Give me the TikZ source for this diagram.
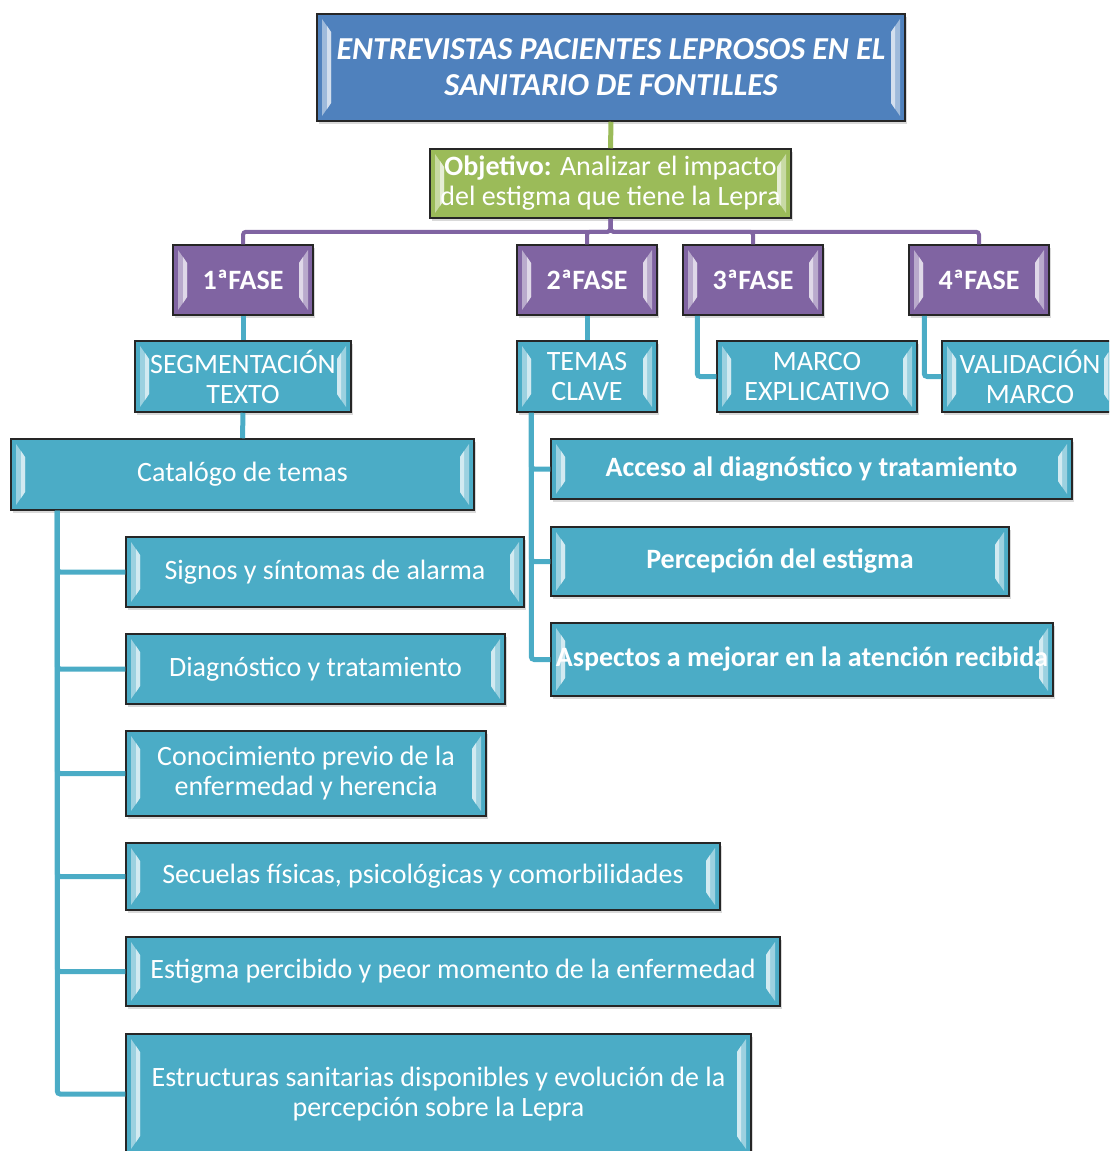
\documentclass[tikz,border=0pt]{standalone}
\usepackage{fontspec}
\setmainfont{Carlito}
\usepackage{tikz}
\usetikzlibrary{positioning, calc, shadows}
\definecolor{titlecolor}{RGB}{79,129,189}
\definecolor{goalcolor}{RGB}{155,187,89}
\definecolor{phasecolor}{RGB}{128,100,162}
\definecolor{topiccolor}{RGB}{75,172,198}

\begin{document}
\begin{tikzpicture}[
    x=1pt, y=-1pt,
    box/.style={draw=black!85, line width=1.5pt, fill=#1, text=white, inner sep=0pt, align=center,
      font=\fontsize{28}{30}\selectfont,
      drop shadow={shadow xshift=1.5pt, shadow yshift=-2.5pt, opacity=0.3},
      path picture={
        \fill[white!45!#1]
          ($(path picture bounding box.north west)+(5,5)$) -- ($(path picture bounding box.north west)+(14,18)$)
          -- ($(path picture bounding box.south west)+(14,-18)$) -- ($(path picture bounding box.south west)+(5,-5)$) -- cycle;
        \fill[white!75!#1]
          ($(path picture bounding box.north west)+(10,12)$) -- ($(path picture bounding box.north west)+(14,18)$)
          -- ($(path picture bounding box.south west)+(14,-18)$) -- ($(path picture bounding box.south west)+(10,-12)$) -- cycle;
        \fill[white!45!#1]
          ($(path picture bounding box.north east)+(-5,5)$) -- ($(path picture bounding box.north east)+(-14,18)$)
          -- ($(path picture bounding box.south east)+(-14,-18)$) -- ($(path picture bounding box.south east)+(-5,-5)$) -- cycle;
        \fill[white!75!#1]
          ($(path picture bounding box.north east)+(-10,12)$) -- ($(path picture bounding box.north east)+(-14,18)$)
          -- ($(path picture bounding box.south east)+(-14,-18)$) -- ($(path picture bounding box.south east)+(-10,-12)$) -- cycle;
      }},
    titlebox/.style={box=titlecolor, font=\fontsize{32}{36}\selectfont\bfseries\itshape},
    goalbox/.style={box=goalcolor},
    phasebox/.style={box=phasecolor, font=\fontsize{28}{30}\selectfont\bfseries},
    topic/.style={box=topiccolor},
    keytopic/.style={box=topiccolor, font=\fontsize{28}{30}\selectfont\bfseries},
    glink/.style={draw=goalcolor, line width=5pt},
    plink/.style={draw=phasecolor, line width=4pt, rounded corners=3pt},
    tlink/.style={draw=topiccolor, line width=5pt, rounded corners=3pt}
]
    \useasboundingbox (0,0) rectangle (1109,1151);
    \clip (0,0) rectangle (1109,1151);

    % Title and objective
    \node[titlebox, minimum width=588pt, minimum height=107pt] (title) at (611,67.5) {ENTREVISTAS PACIENTES LEPROSOS EN EL\\SANITARIO DE FONTILLES};
    \node[goalbox, minimum width=361pt, minimum height=69pt] (obj) at (610.5,183.5) {\textbf{Objetivo:} Analizar el impacto\\del estigma que tiene la Lepra};

    % Phases
    \node[phasebox, minimum width=140pt, minimum height=70pt] (f1) at (243,280) {1ªFASE};
    \node[phasebox, minimum width=140pt, minimum height=70pt] (f2) at (587,280) {2ªFASE};
    \node[phasebox, minimum width=140pt, minimum height=70pt] (f3) at (753,280) {3ªFASE};
    \node[phasebox, minimum width=140pt, minimum height=70pt] (f4) at (979,280) {4ªFASE};

    % Phase results
    \node[topic, minimum width=216pt, minimum height=71pt] (seg) at (243,376.5) {SEGMENTACIÓN\\TEXTO};
    \node[topic, minimum width=140pt, minimum height=71pt] (temas) at (587,376.5) {TEMAS\\CLAVE};
    \node[topic, minimum width=200pt, minimum height=71pt] (marco) at (817,376.5) {MARCO\\EXPLICATIVO};
    \node[topic, minimum width=176pt, minimum height=71pt] (valid) at (1030,376.5) {VALIDACIÓN\\MARCO};

    % Catalogue of topics
    \node[topic, minimum width=463pt, minimum height=71pt] (cat) at (242.5,474.5) {Catalógo de temas};
    \node[topic, minimum width=398pt, minimum height=70pt] (c1) at (325,572) {Signos y síntomas de alarma};
    \node[topic, minimum width=379pt, minimum height=70pt] (c2) at (315.5,669) {Diagnóstico y tratamiento};
    \node[topic, minimum width=360pt, minimum height=85pt] (c3) at (306,773.5) {Conocimiento previo de la\\enfermedad y herencia};
    \node[topic, minimum width=594pt, minimum height=67pt] (c4) at (423,876.5) {Secuelas físicas, psicológicas y comorbilidades};
    \node[topic, minimum width=654pt, minimum height=69pt] (c5) at (453,971.5) {Estigma percibido y peor momento de la enfermedad};
    \node[topic, minimum width=625pt, minimum height=120pt] (c6) at (438.5,1094) {Estructuras sanitarias disponibles y evolución de la\\percepción sobre la Lepra};

    % Key topics
    \node[keytopic, minimum width=521pt, minimum height=60pt] (t1) at (811.5,469) {Acceso al diagnóstico y tratamiento};
    \node[keytopic, minimum width=458pt, minimum height=69pt] (t2) at (780,561.5) {Percepción del estigma};
    \node[keytopic, minimum width=502pt, minimum height=73pt] (t3) at (802,659.5) {Aspectos a mejorar en la atención recibida};

    % Connectors
    \draw[glink] (title.south) -- (obj.north);
    \foreach \f in {f1,f2,f3,f4}
        \draw[plink] (obj.south) -- ++(0,13) -| (\f.north);
    \draw[tlink] (f1.south) -- (seg.north);
    \draw[tlink] (seg.south) -- (cat.north);
    \draw[tlink] (f2.south) -- (temas.north);
    \draw[tlink] ($(f3.south west)+(15,0)$) |- (marco.west);
    \draw[tlink] ($(f4.south west)+(16,0)$) |- (valid.west);
    \foreach \c in {c1,c2,c3,c4,c5,c6}
        \draw[tlink] ($(cat.south west)+(47,0)$) |- (\c.west);
    \foreach \t in {t1,t2,t3}
        \draw[tlink] ($(temas.south west)+(15,0)$) |- (\t.west);
\end{tikzpicture}
\end{document}
